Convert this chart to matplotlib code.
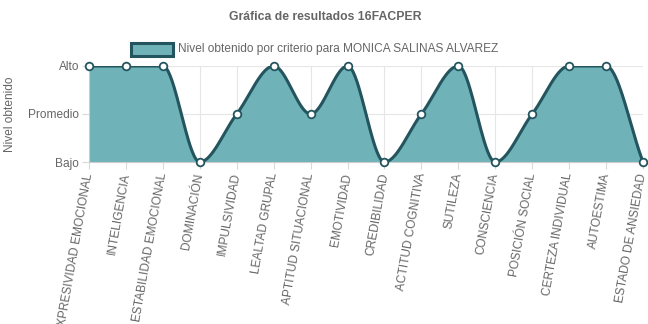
import numpy as np
import matplotlib
matplotlib.use("Agg")
import matplotlib.pyplot as plt
from matplotlib.patches import Rectangle

plt.rcParams['font.family'] = ['Liberation Sans', 'DejaVu Sans']

categories = ["EXPRESIVIDAD EMOCIONAL", "INTELIGENCIA", "ESTABILIDAD EMOCIONAL",
              "DOMINACIÓN", "IMPULSIVIDAD", "LEALTAD GRUPAL", "APTITUD SITUACIONAL",
              "EMOTIVIDAD", "CREDIBILIDAD", "ACTITUD COGNITIVA", "SUTILEZA",
              "CONSCIENCIA", "POSICIÓN SOCIAL", "CERTEZA INDIVIDUAL", "AUTOESTIMA",
              "ESTADO DE ANSIEDAD"]
# 0 = Bajo, 1 = Promedio, 2 = Alto
levels = [2, 2, 2, 0, 1, 2, 1, 2, 0, 1, 2, 0, 1, 2, 2, 0]
level_labels = ["Bajo", "Promedio", "Alto"]
series_name = "Nivel obtenido por criterio para MONICA SALINAS ALVAREZ"

fill_color = "#6fb3b8"
line_color = "#24555e"
text_color = "#666666"


def monotone_curve(y, steps=40):
    # same idea as chart.js cubicInterpolationMode 'monotone'
    y = np.asarray(y, dtype=float)
    n = len(y)
    d = np.diff(y)
    m = np.zeros(n)
    m[0], m[-1] = d[0], d[-1]
    for i in range(1, n - 1):
        m[i] = 0 if d[i - 1] * d[i] <= 0 else (d[i - 1] + d[i]) / 2
    for i in range(n - 1):
        if d[i] == 0:
            m[i] = m[i + 1] = 0
            continue
        a, b = m[i] / d[i], m[i + 1] / d[i]
        s = a * a + b * b
        if s > 9:
            tau = 3 / np.sqrt(s)
            m[i], m[i + 1] = tau * a * d[i], tau * b * d[i]
    xs, ys = [], []
    t = np.linspace(0, 1, steps)
    for i in range(n - 1):
        h00 = 2 * t**3 - 3 * t**2 + 1
        h10 = t**3 - 2 * t**2 + t
        h01 = -2 * t**3 + 3 * t**2
        h11 = t**3 - t**2
        xs.append(i + t)
        ys.append(h00 * y[i] + h10 * m[i] + h01 * y[i + 1] + h11 * m[i + 1])
    return np.concatenate(xs), np.concatenate(ys)


x = np.arange(len(categories))
cx, cy = monotone_curve(levels)

fig = plt.figure(figsize=(6.48, 3.24), dpi=100)
ax = fig.add_axes([89 / 648, 1 - 162 / 324, (643 - 89) / 648, 96 / 324])

ax.fill_between(cx, 0, cy, color=fill_color, alpha=1, lw=0, zorder=2)
ax.plot(cx, cy, color=line_color, lw=2.2, zorder=3, solid_capstyle='round')
ax.plot(x, levels, 'o', ms=5.5, mfc='white', mec=line_color, mew=1.3,
        zorder=4, clip_on=False)

ax.set_xlim(0, len(categories) - 1)
ax.set_ylim(0, 2)
ax.set_yticks([0, 1, 2])
ax.set_yticklabels(level_labels, fontsize=8.6, color=text_color)
ax.set_xticks(x)
ax.set_xticklabels(categories, fontsize=8.6, color=text_color, rotation=80,
                   ha='right', va='center', rotation_mode='anchor')
ax.tick_params(axis='both', length=5, color='#d9d9d9', pad=2)
ax.tick_params(axis='x', pad=3)
ax.grid(True, color='#e6e6e6', lw=0.8, zorder=0)
ax.set_axisbelow(True)
for side in ['top', 'right']:
    ax.spines[side].set_visible(False)
for side in ['left', 'bottom']:
    ax.spines[side].set_color('#cccccc')
    ax.spines[side].set_linewidth(0.8)

fig.text(10 / 648, 1 - 114 / 324, "Nivel obtenido", rotation=90, ha='center',
         va='center', fontsize=8.6, color=text_color)
fig.text(325 / 648, 1 - 17 / 324, "Gráfica de resultados 16FACPER", ha='center',
         va='center', fontsize=8.8, fontweight='bold', color=text_color)

# legend like chart.js
fig.patches.append(Rectangle((131 / 648, 1 - 56 / 324), 42 / 648, 13 / 324,
                             transform=fig.transFigure, facecolor=fill_color,
                             edgecolor=line_color, lw=2.2))
fig.text(178 / 648, 1 - 49 / 324, series_name, ha='left', va='center',
         fontsize=8.6, color=text_color)

fig.savefig("out.png", dpi=100)
